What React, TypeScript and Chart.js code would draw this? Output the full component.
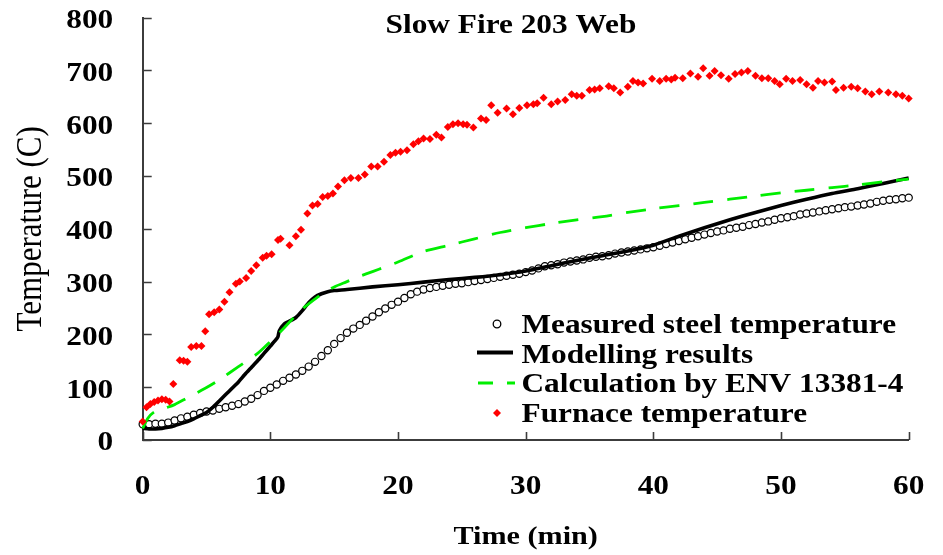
import React, { useEffect, useRef } from 'react';
import { Chart, registerables } from 'chart.js';

Chart.register(...registerables);

// ---------- text ----------
const chartTitle = 'Slow Fire 203 Web';
const xAxisTitle = 'Time (min)';
const yAxisTitle = 'Temperature (C)';
const legendLabels = [
  'Measured steel temperature',
  'Modelling results',
  'Calculation by ENV 13381-4',
  'Furnace temperature',
];

// ---------- ticks ----------
const xTickValues = [0, 10, 20, 30, 40, 50, 60];
const yTickValues = [0, 100, 200, 300, 400, 500, 600, 700, 800];

// ---------- measured steel temperature ----------
const measuredTime = [
  0, 0.5, 1, 1.5, 2, 2.5, 3, 3.5, 4, 4.5, 5, 5.5, 6, 6.5, 7, 7.5, 8, 8.5, 9, 9.5,
  10, 10.5, 11, 11.5, 12, 12.5, 13, 13.5, 14, 14.5, 15, 15.5, 16, 16.5, 17, 17.5, 18, 18.5, 19, 19.5,
  20, 20.5, 21, 21.5, 22, 22.5, 23, 23.5, 24, 24.5, 25, 25.5, 26, 26.5, 27, 27.5, 28, 28.5, 29, 29.5,
  30, 30.5, 31, 31.5, 32, 32.5, 33, 33.5, 34, 34.5, 35, 35.5, 36, 36.5, 37, 37.5, 38, 38.5, 39, 39.5,
  40, 40.5, 41, 41.5, 42, 42.5, 43, 43.5, 44, 44.5, 45, 45.5, 46, 46.5, 47, 47.5, 48, 48.5, 49, 49.5,
  50, 50.5, 51, 51.5, 52, 52.5, 53, 53.5, 54, 54.5, 55, 55.5, 56, 56.5, 57, 57.5, 58, 58.5, 59, 59.5, 60,
];
const measuredTemp = [
  30, 30, 31, 31, 33, 37, 41, 44, 48, 51, 54, 56, 59, 62, 65, 68, 73, 78, 85, 93,
  99, 105, 112, 118, 124, 131, 139, 148, 159, 170, 182, 193, 203, 211, 218, 226, 234, 242, 249, 256,
  262, 269, 276, 281, 285, 288, 290, 292, 294, 296, 297, 299, 301, 303, 305, 307, 309, 311, 313, 315,
  318, 321, 325, 329, 331, 333, 336, 338, 340, 342, 345, 347, 348, 350, 353, 355, 357, 359, 361, 363,
  365, 368, 371, 374, 377, 380, 383, 386, 389, 392, 395, 397, 400, 402, 404, 407, 409, 412, 414, 417,
  420, 422, 424, 427, 429, 431, 433, 435, 437, 439, 441, 442, 444, 446, 448, 451, 453, 455, 456, 458, 459,
];

// ---------- modelling results ----------
const modelTime = [
  0, 0.5, 1, 1.5, 2, 2.5, 3, 3.5, 4, 4.5, 5, 5.5, 6, 6.5, 7, 7.5, 8, 8.5, 9, 9.5, 10, 10.5,
  10.6, 10.7, 11.1, 11.5, 12, 12.5, 13, 13.5, 14, 14.5, 15, 16, 18, 20, 22, 24, 26, 28, 30,
  32, 34, 36, 38, 40, 42, 44, 46, 48, 50, 52, 54, 56, 58, 60,
];
const modelTemp = [
  22, 21, 21, 22, 24, 27, 31, 35, 40, 46, 52, 62, 74, 86, 98, 110, 124, 137, 150, 164, 178, 192,
  196, 207, 220, 225, 232, 245, 260, 271, 277, 281, 283, 285, 290, 294, 299, 304, 308, 313, 320,
  330, 340, 349, 358, 369, 386, 402, 417, 431, 444, 456, 467, 476, 486, 496,
];

// ---------- calculation by ENV 13381-4 ----------
const envTime = [
  0, 0.4, 0.9, 1.7, 2.5, 3.5, 4.9, 6, 7.5, 9, 10.1, 10.9, 12, 12.7, 14, 15, 16, 17, 18, 19, 20,
  22, 24, 26, 28, 30, 32, 34, 36, 38, 40, 42, 44, 46, 48, 50, 52, 54, 56, 58, 60,
];
const envTemp = [
  22, 41, 53, 60, 67, 80, 98, 114, 139, 164, 189, 208, 236, 252, 276, 290, 300, 310, 319, 328, 337,
  357, 369, 381, 393, 402, 410, 417, 423, 431, 438, 444, 450, 456, 462, 468, 473, 478, 483, 489, 494,
];

// ---------- furnace temperature ----------
const furnaceTime = [
  0, 0.3, 0.6, 0.9, 1.2, 1.5, 1.8, 2.1, 2.4, 2.9, 3.2, 3.5, 3.8, 4.2, 4.6, 4.9, 5.2, 5.6, 6.0, 6.4,
  6.8, 7.3, 7.6, 8.1, 8.5, 8.9, 9.4, 9.7, 10.1, 10.6, 10.8, 11.5, 12.0, 12.4, 12.9, 13.3, 13.7, 14.1, 14.5, 14.9,
  15.3, 15.8, 16.3, 16.9, 17.4, 17.9, 18.4, 18.9, 19.4, 19.8, 20.2, 20.7, 21.2, 21.6, 22.0, 22.5, 23.0, 23.4, 23.9, 24.3,
  24.7, 25.1, 25.4, 25.9, 26.5, 26.9, 27.3, 27.8, 28.5, 29.0, 29.5, 30.1, 30.6, 30.9, 31.4, 32.0, 32.5, 33.1, 33.6, 34.0,
  34.4, 35.0, 35.4, 35.8, 36.5, 36.9, 37.4, 38.0, 38.4, 38.8, 39.2, 39.9, 40.5, 41.0, 41.4, 41.7, 42.3, 42.9, 43.5, 43.9,
  44.4, 44.8, 45.3, 45.9, 46.4, 46.9, 47.4, 48.0, 48.5, 49.0, 49.5, 49.9, 50.4, 50.9, 51.5, 52.0, 52.5, 52.9, 53.4, 54.0,
  54.3, 54.9, 55.5, 56.0, 56.6, 57.1, 57.7, 58.4, 59.0, 59.5, 60.0,
];
const furnaceTemp = [
  35, 62, 68, 72, 75, 77, 76, 73, 106, 151, 150, 148, 176, 178, 178, 206, 238, 242, 247, 262,
  280, 296, 300, 307, 320, 331, 345, 349, 352, 379, 381, 369, 386, 398, 429, 444, 447, 460, 462, 467,
  480, 492, 496, 496, 503, 518, 518, 527, 540, 544, 546, 549, 560, 566, 571, 570, 578, 573, 593, 598,
  600, 598, 597, 592, 609, 606, 634, 620, 628, 617, 629, 634, 636, 638, 648, 636, 641, 644, 655, 652,
  652, 663, 664, 666, 670, 666, 658, 669, 680, 677, 675, 684, 680, 684, 683, 686, 685, 694, 688, 704,
  690, 699, 691, 684, 693, 696, 699, 690, 685, 685, 680, 674, 684, 680, 682, 674, 667, 680, 677, 679,
  663, 667, 669, 666, 660, 655, 660, 658, 655, 652, 647,
];

// ---------- styling ----------
const SERIF = '"Liberation Serif", "Times New Roman", Times, serif';
const STRETCH = 1.16;
const AXIS_COLOR = '#3c3c3c';
const GREEN = '#00ee00';
const RED = '#ff0000';

const toPoints = (xs: number[], ys: number[]) => xs.map((x, i) => ({ x, y: ys[i] }));

function drawText(
  ctx: CanvasRenderingContext2D,
  text: string,
  x: number,
  y: number,
  font: string,
  align: CanvasTextAlign,
  rotate = false,
) {
  ctx.save();
  ctx.translate(x, y);
  ctx.scale(STRETCH, 1);
  if (rotate) ctx.rotate(-Math.PI / 2);
  ctx.font = font;
  ctx.textAlign = align;
  ctx.textBaseline = 'alphabetic';
  ctx.fillStyle = '#000';
  ctx.fillText(text, 0, 0);
  ctx.restore();
}

const overlayPlugin = {
  id: 'overlayText',
  afterDraw(chart: any) {
    const ctx: CanvasRenderingContext2D = chart.ctx;
    const a = chart.chartArea;
    const xs = chart.scales.x;
    const ys = chart.scales.y;
    ctx.save();

    // inward tick marks
    ctx.strokeStyle = AXIS_COLOR;
    ctx.lineWidth = 1.6;
    ctx.beginPath();
    for (const v of yTickValues) {
      const py = Math.round(ys.getPixelForValue(v)) + 0.5;
      ctx.moveTo(a.left, py);
      ctx.lineTo(a.left + 9, py);
    }
    for (const v of xTickValues) {
      const px = Math.round(xs.getPixelForValue(v)) + 0.5;
      ctx.moveTo(px, a.bottom);
      ctx.lineTo(px, a.bottom - 8);
    }
    ctx.stroke();

    // tick labels
    const tickFont = `bold 27px ${SERIF}`;
    for (const v of yTickValues) {
      drawText(ctx, String(v), a.left - 29.5, ys.getPixelForValue(v) + 10.4, tickFont, 'right');
    }
    for (const v of xTickValues) {
      drawText(ctx, String(v), xs.getPixelForValue(v), a.bottom + 54, tickFont, 'center');
    }

    // titles
    drawText(ctx, chartTitle, 511, 33, `bold 27px ${SERIF}`, 'center');
    drawText(ctx, xAxisTitle, (a.left + a.right) / 2, a.bottom + 104, `bold 26px ${SERIF}`, 'center');
    drawText(ctx, yAxisTitle, 40.5, (a.top + a.bottom) / 2, `31px ${SERIF}`, 'center', true);

    // legend
    const symX = 497;
    const textX = 521.5;
    const baselines = [333, 362.5, 392, 421.5];
    const legendFont = `bold 27px ${SERIF}`;
    // measured: open circle
    ctx.beginPath();
    ctx.arc(symX, baselines[0] - 9, 3.8, 0, Math.PI * 2);
    ctx.fillStyle = '#fff';
    ctx.fill();
    ctx.lineWidth = 1.3;
    ctx.strokeStyle = '#000';
    ctx.stroke();
    // modelling: solid black line
    ctx.beginPath();
    ctx.lineWidth = 4;
    ctx.strokeStyle = '#000';
    ctx.moveTo(477, baselines[1] - 10);
    ctx.lineTo(513, baselines[1] - 10);
    ctx.stroke();
    // ENV: green dashes
    ctx.beginPath();
    ctx.lineWidth = 3;
    ctx.strokeStyle = GREEN;
    ctx.moveTo(478, baselines[2] - 9);
    ctx.lineTo(493, baselines[2] - 9);
    ctx.moveTo(507, baselines[2] - 9);
    ctx.lineTo(515, baselines[2] - 9);
    ctx.stroke();
    // furnace: red diamond
    const dy = baselines[3] - 8.5;
    ctx.beginPath();
    ctx.moveTo(symX, dy - 4);
    ctx.lineTo(symX + 4, dy);
    ctx.lineTo(symX, dy + 4);
    ctx.lineTo(symX - 4, dy);
    ctx.closePath();
    ctx.fillStyle = RED;
    ctx.fill();

    legendLabels.forEach((label, i) => drawText(ctx, label, textX, baselines[i], legendFont, 'left'));

    ctx.restore();
  },
};

export default function App() {
  const canvasRef = useRef<HTMLCanvasElement | null>(null);

  useEffect(() => {
    const canvas = canvasRef.current;
    if (!canvas) return;
    const chart = new Chart(canvas, {
      type: 'scatter',
      data: {
        datasets: [
          {
            label: legendLabels[3],
            data: toPoints(furnaceTime, furnaceTemp),
            showLine: false,
            pointStyle: 'rectRot',
            pointRadius: 4,
            pointBorderWidth: 0,
            backgroundColor: RED,
            borderColor: RED,
            order: 0,
            clip: false,
          },
          {
            label: legendLabels[2],
            data: toPoints(envTime, envTemp),
            showLine: true,
            pointRadius: 0,
            borderColor: GREEN,
            borderWidth: 2.8,
            borderDash: [20, 14],
            tension: 0.3,
            order: 1,
            clip: false,
          },
          {
            label: legendLabels[1],
            data: toPoints(modelTime, modelTemp),
            showLine: true,
            pointRadius: 0,
            borderColor: '#000',
            borderWidth: 3.6,
            tension: 0.2,
            order: 2,
            clip: false,
          },
          {
            label: legendLabels[0],
            data: toPoints(measuredTime, measuredTemp),
            showLine: false,
            pointStyle: 'circle',
            pointRadius: 3.6,
            pointBorderWidth: 1.2,
            pointBackgroundColor: '#fff',
            pointBorderColor: '#000',
            order: 3,
            clip: false,
          },
        ],
      },
      options: {
        responsive: false,
        maintainAspectRatio: false,
        devicePixelRatio: 1,
        animation: false,
        events: [],
        layout: { padding: { left: 142.7, right: 34.3, top: 17.6, bottom: 115 } },
        plugins: {
          legend: { display: false },
          title: { display: false },
          tooltip: { enabled: false },
        },
        scales: {
          x: {
            type: 'linear',
            min: 0,
            max: 60,
            ticks: { display: false, stepSize: 10 },
            grid: { display: false, drawTicks: false },
            border: { display: true, color: AXIS_COLOR, width: 2 },
          },
          y: {
            type: 'linear',
            min: 0,
            max: 800,
            ticks: { display: false, stepSize: 100 },
            grid: { display: false, drawTicks: false },
            border: { display: true, color: AXIS_COLOR, width: 2 },
          },
        },
      },
      plugins: [overlayPlugin],
    });
    return () => chart.destroy();
  }, []);

  return (
    <div style={{ position: 'fixed', left: 0, top: 0, width: 943, height: 555, background: '#fff' }}>
      <canvas ref={canvasRef} width={943} height={555} style={{ display: 'block' }} />
    </div>
  );
}
